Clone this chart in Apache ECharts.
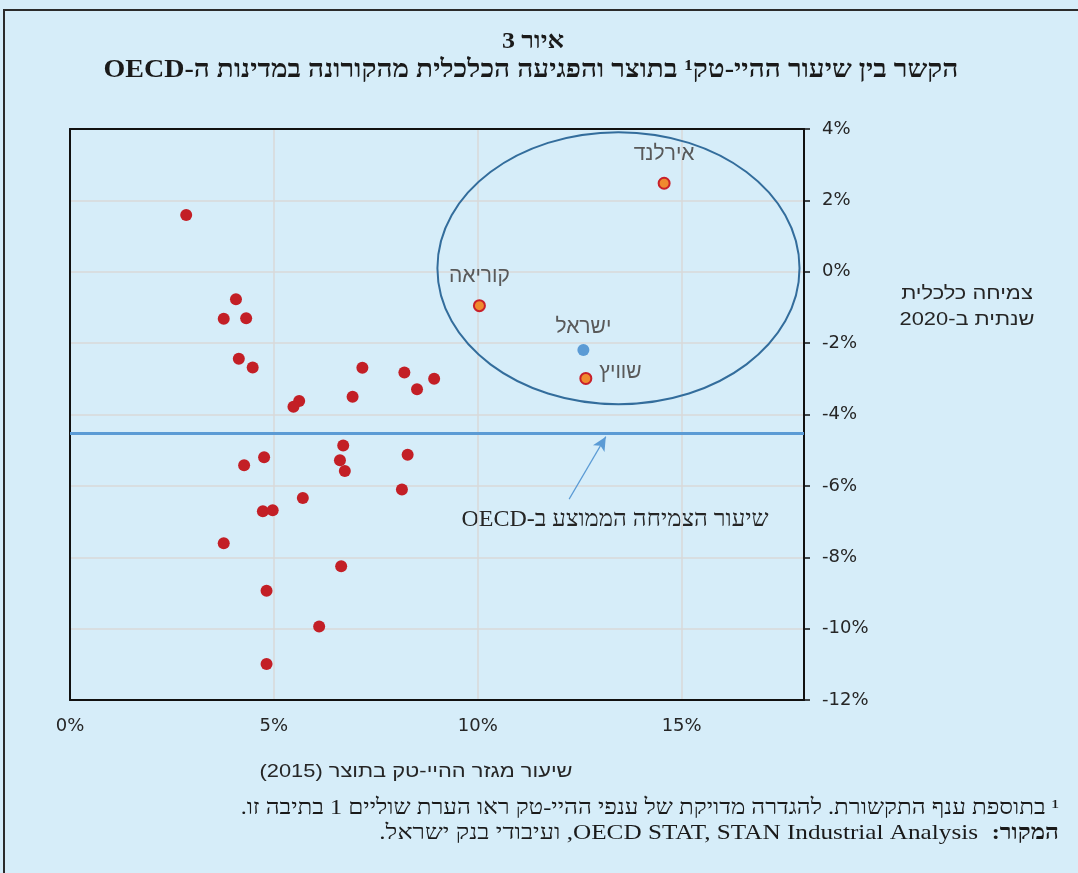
<!DOCTYPE html>
<html>
<head>
<meta charset="utf-8">
<script src="https://cdn.jsdelivr.net/npm/echarts@6/dist/echarts.min.js"></script>
<style>
html, body { margin: 0; padding: 0; background: #d6edf9; }
#chart { width: 1078px; height: 873px; }
</style>
</head>
<body>
<div id="chart"></div>
<script>
// high-tech share of output (2015) vs 2020 growth, OECD countries
const otherX = [2.85, 4.07, 3.77, 4.32, 4.14, 4.48, 5.62, 5.48, 7.17, 6.93, 8.20, 8.51, 8.93, 6.70,
   4.76, 4.27, 6.62, 6.74, 8.28, 8.14, 5.71, 4.73, 4.97, 3.77, 6.65, 4.82, 6.11, 4.82];
const otherY = [1.59, -0.77, -1.32, -1.30, -2.44, -2.68, -3.62, -3.78, -2.69, -3.50, -2.82, -3.29, -3.00, -4.87,
   -5.20, -5.42, -5.28, -5.58, -5.13, -6.10, -6.34, -6.71, -6.68, -7.61, -8.25, -8.94, -9.94, -10.99];

const highlightNames = ['אירלנד', 'קוריאה', 'שוויץ'];
const highlightX = [14.57, 10.04, 12.65];
const highlightY = [2.48, -0.95, -2.99];

const israelName = 'ישראל';
const israelX = [12.59];
const israelY = [-2.19];

const oecdAverage = -4.53;

const xTicks = [0, 5, 10, 15];
const yTicks = [4, 2, 0, -2, -4, -6, -8, -10, -12];

// ellipse round the highlighted group: centre x, centre y, radius x, radius y (data units)
const groupEllipse = [13.45, 0.10, 4.44, 3.81];
// arrow from the note up to the average line
const arrowFrom = [12.24, -6.37];
const arrowTo = [13.14, -4.62];

const rtl = s => '\u202B' + s + '\u202C';

const chart = echarts.init(document.getElementById('chart'));

const labelPos = [
   { position: 'top', distance: 12 },
   { position: 'top', distance: 12 },
   { position: 'right', distance: 7, offset: [0, -6] }
];

const frameAxis = {
   type: 'value',
   axisLine: { show: true, onZero: false, lineStyle: { color: '#111', width: 2 } },
   axisTick: { show: false },
   axisLabel: { show: false },
   splitLine: { show: false }
};

chart.setOption({
   backgroundColor: '#d6edf9',
   animation: false,
   grid: {
      left: 70,
      right: 274,
      top: 129,
      bottom: 173
   },
   xAxis: [{
      type: 'value',
      min: 0,
      max: 18,
      interval: 5,
      axisLine: { show: true, onZero: false, lineStyle: { color: '#111', width: 2 } },
      axisTick: { show: false },
      axisLabel: {
         showMaxLabel: false,
         margin: 17,
         fontSize: 18,
         fontFamily: 'DejaVu Sans',
         color: '#262626',
         formatter: v => (xTicks.indexOf(v) >= 0 ? v + '%' : '')
      },
      splitLine: { lineStyle: { color: '#d9d9d9', width: 1.5 } }
   }, Object.assign({ position: 'top', min: 0, max: 18 }, frameAxis)],
   yAxis: [{
      type: 'value',
      position: 'right',
      min: -12,
      max: 4,
      interval: 2,
      axisLine: { show: true, onZero: false, lineStyle: { color: '#111', width: 2 } },
      axisTick: { show: true, length: 6, lineStyle: { color: '#111', width: 1.5 } },
      axisLabel: {
         margin: 18,
         fontSize: 18,
         fontFamily: 'DejaVu Sans',
         color: '#262626',
         formatter: v => (yTicks.indexOf(v) >= 0 ? v + '%' : '')
      },
      splitLine: { lineStyle: { color: '#d9d9d9', width: 1.5 } }
   }, Object.assign({ position: 'left', min: -12, max: 4 }, frameAxis)],
   series: [
      {
         type: 'custom',
         silent: true,
         z: 1,
         encode: { x: 0, y: 1 },
         data: [groupEllipse],
         renderItem: (params, api) => {
            const c = api.coord([api.value(0), api.value(1)]);
            const s = api.size([api.value(2), api.value(3)]);
            return {
               type: 'ellipse',
               shape: { cx: c[0], cy: c[1], rx: s[0], ry: s[1] },
               style: { fill: 'none', stroke: '#336d9c', lineWidth: 2 }
            };
         }
      },
      {
         type: 'scatter',
         z: 3,
         symbolSize: 12,
         itemStyle: { color: '#c31f26', opacity: 1 },
         data: otherX.map((x, i) => [x, otherY[i]]),
         markLine: {
            silent: true,
            symbol: 'none',
            label: { show: false },
            lineStyle: { color: '#5b9bd5', width: 3, type: 'solid' },
            data: [{ yAxis: oecdAverage }]
         }
      },
      {
         type: 'scatter',
         z: 4,
         symbolSize: 11,
         itemStyle: { color: '#f08a2e', borderColor: '#c8202a', borderWidth: 2, opacity: 1 },
         data: highlightX.map((x, i) => ({
            value: [x, highlightY[i]],
            name: highlightNames[i],
            label: labelPos[i]
         })),
         label: {
            show: true,
            formatter: p => p.name,
            fontFamily: 'Liberation Sans',
            fontSize: 21,
            color: '#595959'
         }
      },
      {
         type: 'scatter',
         z: 4,
         symbolSize: 12,
         itemStyle: { color: '#5b9bd5', opacity: 1 },
         data: israelX.map((x, i) => ({ value: [x, israelY[i]], name: israelName })),
         label: {
            show: true,
            position: 'top',
            distance: 6,
            formatter: p => p.name,
            fontFamily: 'Liberation Sans',
            fontSize: 21,
            color: '#595959'
         },
         markLine: {
            silent: true,
            symbol: ['none', 'arrow'],
            symbolSize: [10, 14],
            label: { show: false },
            lineStyle: { color: '#5b9bd5', width: 1.2, type: 'solid' },
            data: [[{ coord: arrowFrom }, { coord: arrowTo }]]
         }
      }
   ],
   graphic: [
      {
         type: 'rect',
         silent: true,
         shape: { x: 4, y: 10, width: 1200, height: 1000 },
         style: { fill: 'none', stroke: '#2b2b2b', lineWidth: 2 }
      },
      {
         type: 'text', x: 533, y: 42, scaleX: 1.08,
         style: { text: rtl('איור 3'), align: 'center', verticalAlign: 'middle',
            font: 'bold 24px "Liberation Serif"', fill: '#1a1a1a' }
      },
      {
         type: 'text', x: 531, y: 71, scaleX: 1.12,
         style: { text: rtl('הקשר בין שיעור ההיי-טק¹ בתוצר והפגיעה הכלכלית מהקורונה במדינות ה-OECD'),
            align: 'center', verticalAlign: 'middle',
            font: 'bold 25px "Liberation Serif"', fill: '#1a1a1a' }
      },
      {
         type: 'text', x: 967, y: 294, scaleX: 1.15,
         style: { text: rtl('צמיחה כלכלית'), align: 'center', verticalAlign: 'middle',
            font: '19px "Liberation Sans"', fill: '#262626' }
      },
      {
         type: 'text', x: 967, y: 320, scaleX: 1.15,
         style: { text: rtl('שנתית ב-2020'), align: 'center', verticalAlign: 'middle',
            font: '19px "Liberation Sans"', fill: '#262626' }
      },
      {
         type: 'text', x: 615, y: 520,
         style: { text: rtl('שיעור הצמיחה הממוצע ב-OECD'), align: 'center', verticalAlign: 'middle',
            font: '24px "Liberation Serif"', fill: '#262626' }
      },
      {
         type: 'text', x: 416, y: 772, scaleX: 1.15,
         style: { text: rtl('שיעור מגזר ההיי-טק בתוצר (2015)'), align: 'center', verticalAlign: 'middle',
            font: '19px "Liberation Sans"', fill: '#262626' }
      },
      {
         type: 'text', x: 1059, y: 808, scaleX: 1.1,
         style: { text: rtl('¹ בתוספת ענף התקשורת. להגדרה מדויקת של ענפי ההיי-טק ראו הערת שוליים 1 בתיבה זו.'),
            align: 'right', verticalAlign: 'middle',
            font: '22px "Liberation Serif"', fill: '#1a1a1a' }
      },
      {
         type: 'text', x: 1059, y: 833, scaleX: 1.1,
         style: { text: rtl('המקור:'), align: 'right', verticalAlign: 'middle',
            font: 'bold 22px "Liberation Serif"', fill: '#1a1a1a' }
      },
      {
         type: 'text', x: 978, y: 833, scaleX: 1.2,
         style: { text: rtl('OECD STAT, STAN Industrial Analysis, ועיבודי בנק ישראל.'),
            align: 'right', verticalAlign: 'middle',
            font: '21px "Liberation Serif"', fill: '#1a1a1a' }
      }
   ]
});
</script>
</body>
</html>
